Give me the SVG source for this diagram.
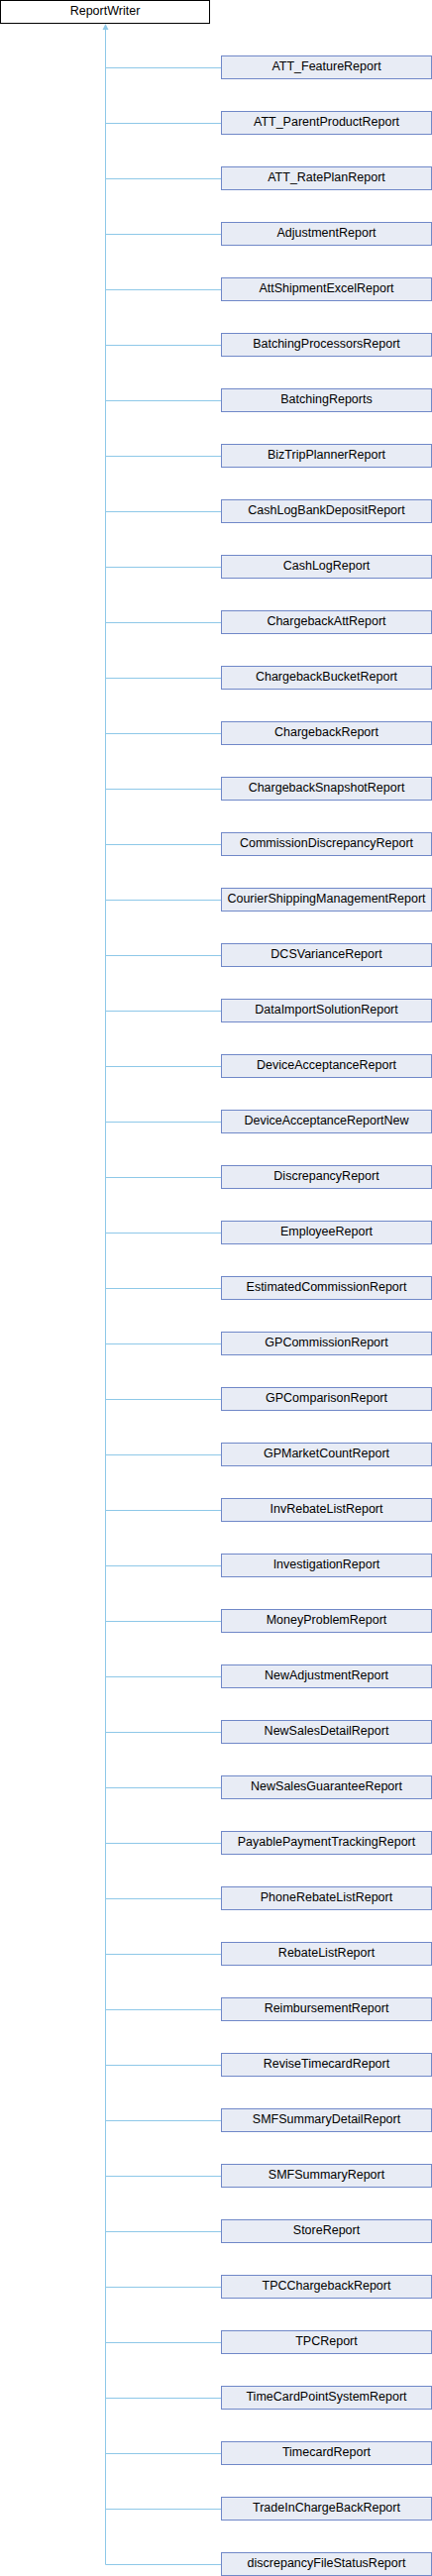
<svg xmlns="http://www.w3.org/2000/svg" width="436" height="2600" viewBox="0 0 436 2600">
<style>
.base rect{fill:#ffffff;stroke:#000000;stroke-width:1}
.node rect{fill:#e8ecf5;stroke:#7088c8;stroke-width:1}
text{font-family:"Liberation Sans",Arial,sans-serif;font-size:12.5px;fill:#000000;text-anchor:middle}
.edge{stroke:#8ec8e8;stroke-width:1;fill:none}
.head{fill:#8ec8e8;stroke:none}
</style>
<rect width="436" height="2600" fill="#ffffff"/>
<g id="connectors">
<path class="edge" d="M106.5,30 V2588.5"/>
<polygon class="head" points="106.5,24 103.5,30 109.5,30"/>
<path class="edge" d="M106.5,68.5H223 M106.5,124.5H223 M106.5,180.5H223 M106.5,236.5H223 M106.5,292.5H223 M106.5,348.5H223 M106.5,404.5H223 M106.5,460.5H223 M106.5,516.5H223 M106.5,572.5H223 M106.5,628.5H223 M106.5,684.5H223 M106.5,740.5H223 M106.5,796.5H223 M106.5,852.5H223 M106.5,908.5H223 M106.5,964.5H223 M106.5,1020.5H223 M106.5,1076.5H223 M106.5,1132.5H223 M106.5,1188.5H223 M106.5,1244.5H223 M106.5,1300.5H223 M106.5,1356.5H223 M106.5,1412.5H223 M106.5,1468.5H223 M106.5,1524.5H223 M106.5,1580.5H223 M106.5,1636.5H223 M106.5,1692.5H223 M106.5,1748.5H223 M106.5,1804.5H223 M106.5,1860.5H223 M106.5,1916.5H223 M106.5,1972.5H223 M106.5,2028.5H223 M106.5,2084.5H223 M106.5,2140.5H223 M106.5,2196.5H223 M106.5,2252.5H223 M106.5,2308.5H223 M106.5,2364.5H223 M106.5,2420.5H223 M106.5,2476.5H223 M106.5,2532.5H223 M106.5,2588.5H223"/>
</g>
<g id="ReportWriter" class="base"><rect x="0.5" y="0.5" width="211" height="23"/><text x="106" y="15">ReportWriter</text></g>
<g id="n1" class="node"><rect x="223.5" y="56.5" width="212" height="23"/><text x="329.5" y="71">ATT_FeatureReport</text></g>
<g id="n2" class="node"><rect x="223.5" y="112.5" width="212" height="23"/><text x="329.5" y="127">ATT_ParentProductReport</text></g>
<g id="n3" class="node"><rect x="223.5" y="168.5" width="212" height="23"/><text x="329.5" y="183">ATT_RatePlanReport</text></g>
<g id="n4" class="node"><rect x="223.5" y="224.5" width="212" height="23"/><text x="329.5" y="239">AdjustmentReport</text></g>
<g id="n5" class="node"><rect x="223.5" y="280.5" width="212" height="23"/><text x="329.5" y="295">AttShipmentExcelReport</text></g>
<g id="n6" class="node"><rect x="223.5" y="336.5" width="212" height="23"/><text x="329.5" y="351">BatchingProcessorsReport</text></g>
<g id="n7" class="node"><rect x="223.5" y="392.5" width="212" height="23"/><text x="329.5" y="407">BatchingReports</text></g>
<g id="n8" class="node"><rect x="223.5" y="448.5" width="212" height="23"/><text x="329.5" y="463">BizTripPlannerReport</text></g>
<g id="n9" class="node"><rect x="223.5" y="504.5" width="212" height="23"/><text x="329.5" y="519">CashLogBankDepositReport</text></g>
<g id="n10" class="node"><rect x="223.5" y="560.5" width="212" height="23"/><text x="329.5" y="575">CashLogReport</text></g>
<g id="n11" class="node"><rect x="223.5" y="616.5" width="212" height="23"/><text x="329.5" y="631">ChargebackAttReport</text></g>
<g id="n12" class="node"><rect x="223.5" y="672.5" width="212" height="23"/><text x="329.5" y="687">ChargebackBucketReport</text></g>
<g id="n13" class="node"><rect x="223.5" y="728.5" width="212" height="23"/><text x="329.5" y="743">ChargebackReport</text></g>
<g id="n14" class="node"><rect x="223.5" y="784.5" width="212" height="23"/><text x="329.5" y="799">ChargebackSnapshotReport</text></g>
<g id="n15" class="node"><rect x="223.5" y="840.5" width="212" height="23"/><text x="329.5" y="855">CommissionDiscrepancyReport</text></g>
<g id="n16" class="node"><rect x="223.5" y="896.5" width="212" height="23"/><text x="329.5" y="911">CourierShippingManagementReport</text></g>
<g id="n17" class="node"><rect x="223.5" y="952.5" width="212" height="23"/><text x="329.5" y="967">DCSVarianceReport</text></g>
<g id="n18" class="node"><rect x="223.5" y="1008.5" width="212" height="23"/><text x="329.5" y="1023">DataImportSolutionReport</text></g>
<g id="n19" class="node"><rect x="223.5" y="1064.5" width="212" height="23"/><text x="329.5" y="1079">DeviceAcceptanceReport</text></g>
<g id="n20" class="node"><rect x="223.5" y="1120.5" width="212" height="23"/><text x="329.5" y="1135">DeviceAcceptanceReportNew</text></g>
<g id="n21" class="node"><rect x="223.5" y="1176.5" width="212" height="23"/><text x="329.5" y="1191">DiscrepancyReport</text></g>
<g id="n22" class="node"><rect x="223.5" y="1232.5" width="212" height="23"/><text x="329.5" y="1247">EmployeeReport</text></g>
<g id="n23" class="node"><rect x="223.5" y="1288.5" width="212" height="23"/><text x="329.5" y="1303">EstimatedCommissionReport</text></g>
<g id="n24" class="node"><rect x="223.5" y="1344.5" width="212" height="23"/><text x="329.5" y="1359">GPCommissionReport</text></g>
<g id="n25" class="node"><rect x="223.5" y="1400.5" width="212" height="23"/><text x="329.5" y="1415">GPComparisonReport</text></g>
<g id="n26" class="node"><rect x="223.5" y="1456.5" width="212" height="23"/><text x="329.5" y="1471">GPMarketCountReport</text></g>
<g id="n27" class="node"><rect x="223.5" y="1512.5" width="212" height="23"/><text x="329.5" y="1527">InvRebateListReport</text></g>
<g id="n28" class="node"><rect x="223.5" y="1568.5" width="212" height="23"/><text x="329.5" y="1583">InvestigationReport</text></g>
<g id="n29" class="node"><rect x="223.5" y="1624.5" width="212" height="23"/><text x="329.5" y="1639">MoneyProblemReport</text></g>
<g id="n30" class="node"><rect x="223.5" y="1680.5" width="212" height="23"/><text x="329.5" y="1695">NewAdjustmentReport</text></g>
<g id="n31" class="node"><rect x="223.5" y="1736.5" width="212" height="23"/><text x="329.5" y="1751">NewSalesDetailReport</text></g>
<g id="n32" class="node"><rect x="223.5" y="1792.5" width="212" height="23"/><text x="329.5" y="1807">NewSalesGuaranteeReport</text></g>
<g id="n33" class="node"><rect x="223.5" y="1848.5" width="212" height="23"/><text x="329.5" y="1863">PayablePaymentTrackingReport</text></g>
<g id="n34" class="node"><rect x="223.5" y="1904.5" width="212" height="23"/><text x="329.5" y="1919">PhoneRebateListReport</text></g>
<g id="n35" class="node"><rect x="223.5" y="1960.5" width="212" height="23"/><text x="329.5" y="1975">RebateListReport</text></g>
<g id="n36" class="node"><rect x="223.5" y="2016.5" width="212" height="23"/><text x="329.5" y="2031">ReimbursementReport</text></g>
<g id="n37" class="node"><rect x="223.5" y="2072.5" width="212" height="23"/><text x="329.5" y="2087">ReviseTimecardReport</text></g>
<g id="n38" class="node"><rect x="223.5" y="2128.5" width="212" height="23"/><text x="329.5" y="2143">SMFSummaryDetailReport</text></g>
<g id="n39" class="node"><rect x="223.5" y="2184.5" width="212" height="23"/><text x="329.5" y="2199">SMFSummaryReport</text></g>
<g id="n40" class="node"><rect x="223.5" y="2240.5" width="212" height="23"/><text x="329.5" y="2255">StoreReport</text></g>
<g id="n41" class="node"><rect x="223.5" y="2296.5" width="212" height="23"/><text x="329.5" y="2311">TPCChargebackReport</text></g>
<g id="n42" class="node"><rect x="223.5" y="2352.5" width="212" height="23"/><text x="329.5" y="2367">TPCReport</text></g>
<g id="n43" class="node"><rect x="223.5" y="2408.5" width="212" height="23"/><text x="329.5" y="2423">TimeCardPointSystemReport</text></g>
<g id="n44" class="node"><rect x="223.5" y="2464.5" width="212" height="23"/><text x="329.5" y="2479">TimecardReport</text></g>
<g id="n45" class="node"><rect x="223.5" y="2520.5" width="212" height="23"/><text x="329.5" y="2535">TradeInChargeBackReport</text></g>
<g id="n46" class="node"><rect x="223.5" y="2576.5" width="212" height="23"/><text x="329.5" y="2591">discrepancyFileStatusReport</text></g>
</svg>
